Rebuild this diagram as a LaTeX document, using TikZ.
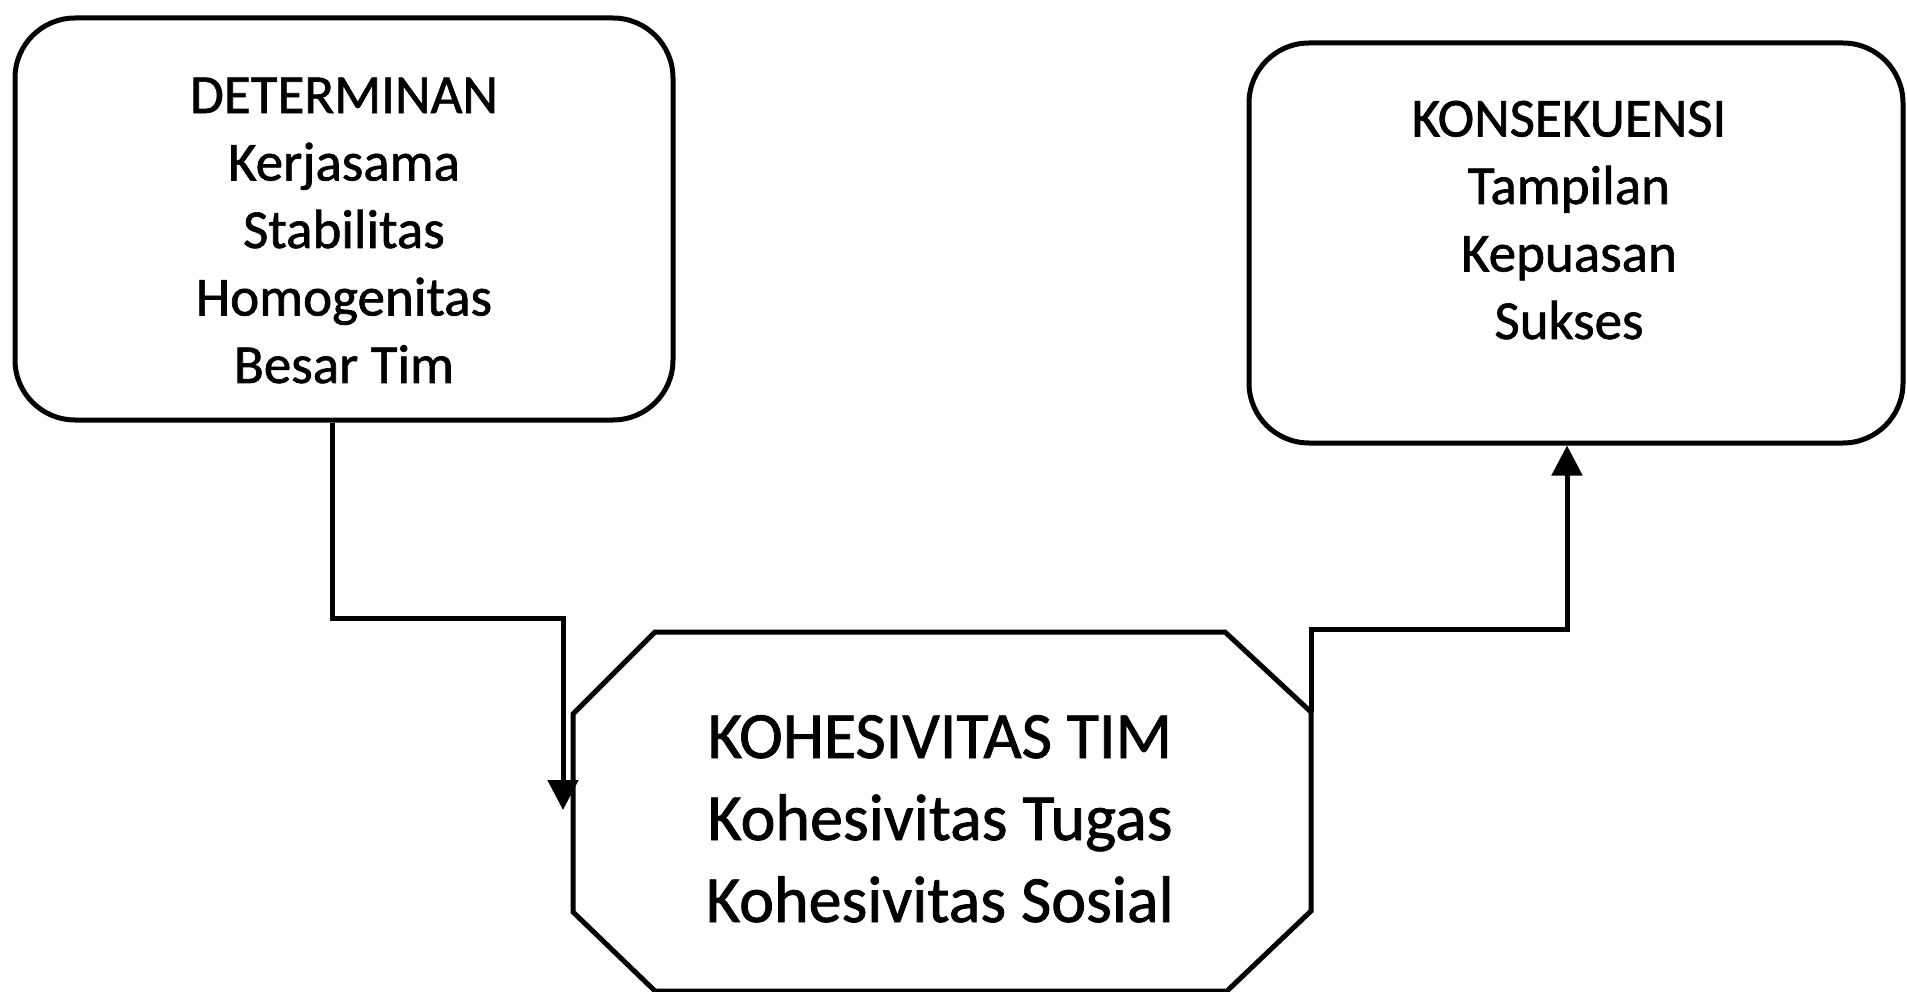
\documentclass[tikz,border=0pt]{standalone}
\usepackage{fontspec}
\setmainfont[FakeBold=1.2]{Carlito}
\usetikzlibrary{arrows.meta}
\begin{document}
\begin{tikzpicture}[x=1pt,y=-1pt,line width=5pt,line join=miter,
  roundbox/.style={draw,rounded corners=60pt,inner sep=0pt},
  boxtext/.style={align=center,anchor=base,inner sep=0pt,font=\fontsize{55}{67.5}\selectfont},
  octtext/.style={align=center,anchor=base,inner sep=0pt,font=\fontsize{66}{82}\selectfont},
  conn/.style={draw,line width=5pt,-{Triangle[width=30pt,length=30pt]}}]
\fill[white] (0,0) rectangle (1907,992);
\useasboundingbox (0,0) rectangle (1907,992);
% boxes
\node[roundbox,minimum width=658pt,minimum height=402pt] (det) at (344,219) {};
\node[roundbox,minimum width=654pt,minimum height=400pt] (kon) at (1576,243) {};
\node[boxtext] (detT) at (344,383) {DETERMINAN\\Kerjasama\\Stabilitas\\Homogenitas\\Besar Tim};
\node[boxtext] (konT) at (1569,339) {KONSEKUENSI\\Tampilan\\Kepuasan\\Sukses};
% octagon
\coordinate (o1) at (655,632);
\coordinate (o2) at (1225,632);
\coordinate (o3) at (1311,712);
\coordinate (o4) at (1311,911);
\coordinate (o5) at (1227,991);
\coordinate (o6) at (655,991);
\coordinate (o7) at (573,912);
\coordinate (o8) at (573,714);
\draw (o1) -- (o2) -- (o3) -- (o4) -- (o5) -- (o6) -- (o7) -- (o8) -- cycle;
\node[octtext] (koh) at (940,922) {KOHESIVITAS TIM\\Kohesivitas Tugas\\Kohesivitas Sosial};
% connectors
\coordinate (a1) at (332,618);
\coordinate (a2) at (563,618);
\coordinate (a3) at (563,810);
\draw[conn] (det.south -| a1) -- (a1) -- (a2) -- (a3);
\coordinate (b1) at (1311,629);
\coordinate (b2) at (1567,629);
\draw[conn] (o3) -- (b1) -- (b2) -- (kon.south -| b2);
\end{tikzpicture}
\end{document}
